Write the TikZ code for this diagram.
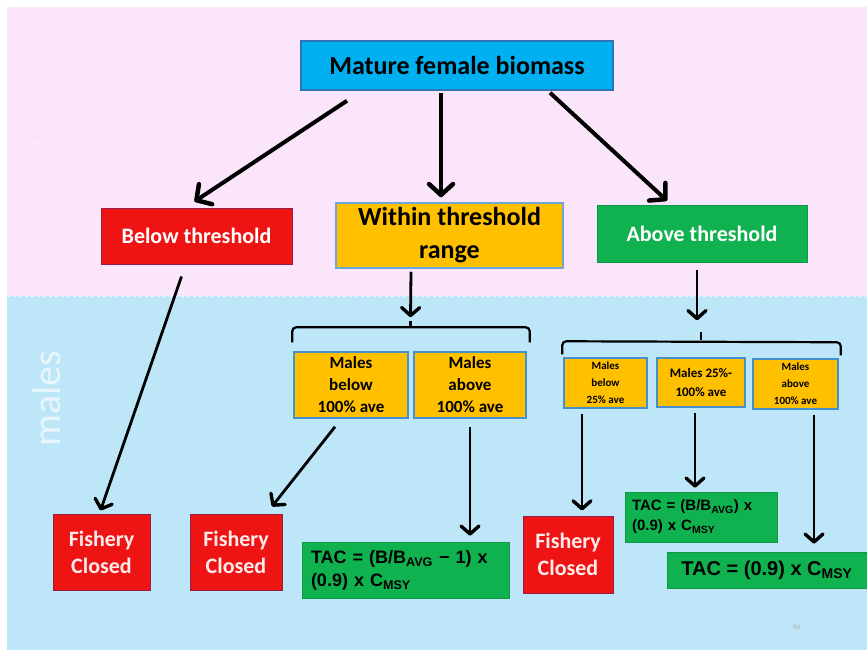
\documentclass[tikz,border=0pt]{standalone}
\usepackage{fontspec}
\setmainfont{Carlito}
\newfontfamily\arialf{Liberation Sans}
\usetikzlibrary{arrows.meta,calc}
\definecolor{bgpink}{RGB}{251,229,250}
\definecolor{bgblue}{RGB}{189,231,249}
\definecolor{topblue}{RGB}{0,176,240}
\definecolor{topedge}{RGB}{46,117,182}
\definecolor{yel}{RGB}{255,192,0}
\definecolor{yeledge}{RGB}{70,145,205}
\definecolor{redbox}{RGB}{238,20,20}
\definecolor{rededge}{RGB}{150,30,70}
\definecolor{grn}{RGB}{16,178,80}
\definecolor{fctext}{RGB}{255,235,235}
\tikzset{
  boxbase/.style={rectangle, inner sep=0pt, align=center, font=\bfseries},
  topbox/.style={boxbase, fill=topblue, draw=topedge, line width=1.5pt},
  redb/.style={boxbase, fill=redbox, draw=rededge, line width=1pt, text=white},
  fcbox/.style={redb, text=fctext, font=\bfseries\fontsize{22}{27}\selectfont},
  yelb/.style={boxbase, fill=yel, draw=yeledge, line width=1.5pt},
  grnb/.style={boxbase, fill=grn, draw=grn!85!black, line width=0.6pt},
  tacb/.style={grnb, align=left, font=\arialf\bfseries},
  bigarr/.style={line width=4pt, -{Straight Barb[length=11pt,width=24pt,line width=4.5pt,round]}},
  arr/.style={line width=2.8pt, -{Straight Barb[length=8pt,width=18pt,line width=3.4pt,round]}},
  bracket/.style={line width=2.2pt, rounded corners=4pt},
}
\begin{document}
\begin{tikzpicture}[x=1pt,y=-1pt]
\useasboundingbox (0,0) rectangle (867,657);
\fill[white] (0,0) rectangle (867,657);
\fill[bgpink] (7,7) rectangle (867,296);
\fill[bgblue] (7,296) rectangle (867,650);
\draw[white, line width=1pt, dash pattern=on 3pt off 3pt, opacity=0.7] (7,296) -- (867,296);

\node[rotate=90, text=white, opacity=0.12, font=\fontsize{40}{40}\selectfont] (fem) at (44,166) {females};
\node[rotate=90, text=white, opacity=0.65, font=\fontsize{40}{40}\selectfont] (mal) at (47,399) {males};

% top level
\node[topbox, minimum width=312pt, minimum height=49pt, font=\bfseries\fontsize{26}{30}\selectfont] (top) at (457,65.5) {Mature female biomass};
\node[redb, minimum width=191pt, minimum height=56pt, font=\bfseries\fontsize{22}{27}\selectfont] (below) at (196.5,236) {Below threshold};
\node[boxbase, fill=yel, draw=yeledge!80!white, line width=1.5pt, minimum width=227pt, minimum height=65pt, font=\bfseries\fontsize{26}{33}\selectfont] (within) at (449.5,235.5) {Within threshold\\range};
\node[grnb, text=white, minimum width=210pt, minimum height=57pt, font=\bfseries\fontsize{22}{27}\selectfont] (above) at (702,233.5) {Above threshold};

% male boxes
\node[yelb, minimum width=114pt, minimum height=66pt, font=\bfseries\fontsize{17}{22}\selectfont] (mb100) at (351,385) {Males\\below\\100\% ave};
\node[yelb, minimum width=112pt, minimum height=66pt, font=\bfseries\fontsize{17}{22}\selectfont] (ma100) at (470,385) {Males\\above\\100\% ave};
\node[yelb, minimum width=83pt, minimum height=50pt, font=\bfseries\fontsize{11}{17}\selectfont] (mb25) at (605.5,383) {Males\\below\\25\% ave};
\node[yelb, minimum width=88pt, minimum height=49pt, font=\bfseries\fontsize{13}{19}\selectfont] (m25) at (701,382.5) {Males 25\%-\\100\% ave};
\node[yelb, minimum width=85pt, minimum height=50pt, font=\bfseries\fontsize{11}{17}\selectfont] (ma100r) at (795.5,384) {Males\\above\\100\% ave};

% outcomes
\node[fcbox, minimum width=97pt, minimum height=76pt] (fc1) at (101.5,552) {Fishery\\Closed};
\node[fcbox, minimum width=92pt, minimum height=76pt] (fc2) at (236,552) {Fishery\\Closed};
\node[fcbox, minimum width=90pt, minimum height=77pt] (fc3) at (568,554.5) {Fishery\\Closed};

\node[tacb, minimum width=207pt, minimum height=56pt, text width=189pt, font=\arialf\bfseries\fontsize{18}{23}\selectfont] (tac1) at (405.5,570) {TAC = (B/B\textsubscript{AVG} − 1) x\\(0.9) x C\textsubscript{MSY}};
\node[tacb, minimum width=152pt, minimum height=50pt, text width=138pt, font=\arialf\bfseries\fontsize{15}{20}\selectfont] (tac2) at (701,517) {TAC = (B/B\textsubscript{AVG}) x\\(0.9) x C\textsubscript{MSY}};
\node[tacb, minimum width=200pt, minimum height=36pt, align=center, font=\arialf\bfseries\fontsize{20}{24}\selectfont] (tac3) at (767,570) {TAC = (0.9) x C\textsubscript{MSY}};

\node[text=gray!60, font=\fontsize{7}{8}\selectfont] (pg) at (797,627) {86};

% brackets
\coordinate (b1) at ($(mb100.north)!0.5!(ma100.north)+(0,-30)$);
\draw[bracket] ($(mb100.north west)+(-1,-9)$) -- ($(mb100.north west)+(-1,-24)$) -- ($(ma100.north east)+(3,-24)$) -- ($(ma100.north east)+(3,-9)$);
\draw[line width=2.2pt] (b1) -- ++(0,6);
\coordinate (b2) at ($(m25.north)+(0,-25)$);
\draw[bracket] ($(mb25.north west)+(-1,-3)$) -- ($(mb25.north west)+(-1,-16)$) -- ($(ma100r.north east)+(2,-16)$) -- ($(ma100r.north east)+(2,-3)$);
\draw[line width=2.2pt] (b2) -- ++(0,8);

% arrows top
\draw[bigarr] ($(top.south)+(-110,10)$) -- ($(below.north)+(-2,-6)$);
\draw[bigarr] ($(top.south)+(-16,2)$) -- ($(within.north)+(-8.5,-5)$);
\draw[bigarr] ($(top.south)+(93,2)$) -- ($(above.north)+(-35,-4)$);

% second level
\draw[arr] ($(below.south)+(-15,12)$) -- ($(fc1.north)+(-1,-3)$);
\draw[arr] ($(within.south)+(-38.5,3)$) -- ($(b1)+(0,-4)$);
\draw[arr] ($(above.south)+(-5,8)$) -- ($(b2)+(-4,-12)$);

% third level
\draw[arr] ($(mb100.south)+(-16,8)$) -- ($(fc2.north)+(36,-7)$);
\draw[arr] ($(ma100.south)+(0,8)$) -- ($(tac1.north)+(64.5,-6)$);
\draw[arr] ($(mb25.south)+(-23.5,5)$) -- ($(fc3.north)+(14,-5)$);
\draw[arr] ($(m25.south)+(-6,5)$) -- ($(tac2.north)+(-6,-4)$);
\draw[arr] ($(ma100r.south)+(18.5,5)$) -- ($(tac3.north)+(47,-8)$);
\end{tikzpicture}
\end{document}
